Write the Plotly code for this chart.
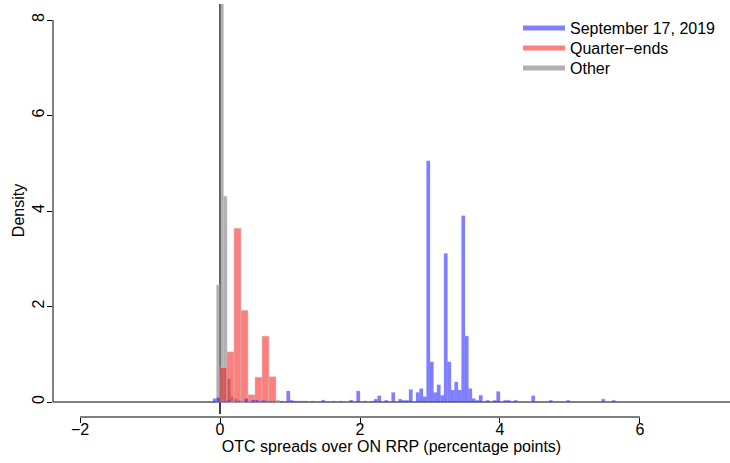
import plotly.graph_objects as go

# ---------------- data (density histograms) ----------------
# September 17, 2019 (bin width 0.05): left bin edges and densities
sep_edges = [-0.10, -0.05, 0.00, 0.05, 0.10, 0.20, 0.25, 0.35, 0.45, 0.50, 0.55, 0.60,
             0.65, 0.70, 0.75, 0.85, 0.95, 1.00, 1.05, 1.10, 1.15, 1.20, 1.30, 1.45,
             1.60, 1.70, 1.85, 1.95, 2.05, 2.15, 2.20, 2.25, 2.35, 2.45, 2.55, 2.60,
             2.65, 2.70, 2.80, 2.85, 2.90, 2.95, 3.00, 3.05, 3.10, 3.15, 3.20, 3.25,
             3.30, 3.35, 3.40, 3.45, 3.50, 3.55, 3.60, 3.65, 3.70, 3.80, 3.90, 3.95,
             4.05, 4.10, 4.20, 4.45, 4.70, 4.95, 5.45, 5.60]
sep_density = [0.07, 0.09, 0.02, 0.02, 0.035, 0.02, 0.02, 0.07, 0.04, 0.04, 0.02, 0.035,
               0.02, 0.02, 0.02, 0.02, 0.23, 0.035, 0.02, 0.02, 0.02, 0.02, 0.02, 0.04,
               0.02, 0.02, 0.04, 0.23, 0.02, 0.02, 0.06, 0.13, 0.035, 0.20, 0.06, 0.035,
               0.035, 0.26, 0.20, 0.28, 0.11, 5.05, 0.84, 0.20, 0.36, 0.14, 3.11, 0.84,
               0.25, 0.42, 0.25, 3.90, 1.38, 0.28, 0.07, 0.035, 0.14, 0.035, 0.035, 0.22,
               0.035, 0.035, 0.035, 0.13, 0.035, 0.035, 0.06, 0.035]
sep_width = 0.05

# Quarter-ends (bin width 0.1)
qe_edges = [0.0, 0.1, 0.2, 0.3, 0.4, 0.5, 0.6, 0.7]
qe_density = [0.72, 1.05, 3.64, 1.92, 0.15, 0.52, 1.38, 0.53]
qe_width = 0.1

# Other days (bin width 0.05)
oth_edges = [-0.05, 0.00, 0.05, 0.10, 0.15, 0.20, 0.25, 0.30, 0.80]
oth_density = [2.45, 12.5, 4.31, 0.48, 0.11, 0.06, 0.03, 0.02, 0.04]
oth_width = 0.05

series_names = ["September 17, 2019", "Quarter\u2212ends", "Other"]
x_ticks = [-2, 0, 2, 4, 6]
y_ticks = [0, 2, 4, 6, 8]

# ---------------- styling ----------------
BLUE = "rgba(0,0,255,0.5)"
RED = "rgba(255,0,0,0.5)"
GRAY = "rgba(100,100,100,0.5)"
FONT = "Liberation Sans, Arial, sans-serif"

fig = go.Figure()

fig.add_trace(go.Bar(x=oth_edges, y=oth_density, width=oth_width, offset=0,
                     marker=dict(color=GRAY, line=dict(color="rgba(200,200,200,0.6)", width=0.8)),
                     showlegend=False, hoverinfo="skip"))
fig.add_trace(go.Bar(x=qe_edges, y=qe_density, width=qe_width, offset=0,
                     marker=dict(color=RED, line=dict(color="rgba(200,200,200,0.7)", width=0.8)),
                     showlegend=False, hoverinfo="skip"))
fig.add_trace(go.Bar(x=sep_edges, y=sep_density, width=sep_width, offset=0,
                     marker=dict(color=BLUE, line=dict(color="rgba(150,150,255,0.5)", width=0.6)),
                     showlegend=False, hoverinfo="skip"))

# legend entries as thick lines, each in its own legend box for exact row placement
legend_cols = [BLUE, RED, GRAY]
legend_ids = ["legend", "legend2", "legend3"]
for name, col, lid in zip(series_names, legend_cols, legend_ids):
    fig.add_trace(go.Scatter(x=[None], y=[None], mode="lines", name=name,
                             line=dict(color=col, width=5), legend=lid))

# Plot area in pixels: left 53, right 730, top 4, bottom 417
PL, PR, PT, PB = 53, 730, 4, 417
x_range = [-2.386, 7.286]
y_range = [-0.314, 8.335]

def px_x(p):
    return (p - PL) / (PR - PL)

def px_y(p):
    return (PB - p) / (PB - PT)

leg_common = dict(xanchor="left", yanchor="middle", bgcolor="rgba(0,0,0,0)",
                  borderwidth=0, itemwidth=42,
                  font=dict(family=FONT, size=16, color="black"))
row_px = [28, 48, 68]

fig.update_layout(
    width=730, height=463,
    margin=dict(l=PL, r=730 - PR, t=PT, b=463 - PB, autoexpand=False),
    plot_bgcolor="white", paper_bgcolor="white",
    barmode="overlay",
    font=dict(family=FONT, size=16, color="black"),
    showlegend=True,
    legend=dict(x=px_x(518), y=px_y(row_px[0]), **leg_common),
    legend2=dict(x=px_x(518), y=px_y(row_px[1]), **leg_common),
    legend3=dict(x=px_x(518), y=px_y(row_px[2]), **leg_common),
    xaxis=dict(range=x_range, tickvals=x_ticks, ticks="outside", ticklen=5,
               tickcolor="black", tickwidth=1, showline=False, showgrid=False,
               zeroline=False, automargin=False, ticklabelstandoff=-7,
               title=dict(text="OTC spreads over ON RRP (percentage points)",
                          font=dict(size=16), standoff=3)),
    yaxis=dict(range=y_range, tickvals=y_ticks, ticks="outside", ticklen=5,
               tickcolor="black", tickwidth=1, showline=False, showgrid=False,
               zeroline=False, automargin=False, tickangle=-90, ticklabelstandoff=-3,
               title=dict(text="Density", font=dict(size=16), standoff=0)),
)

shapes = [
    # vertical reference line at x = 0
    dict(type="line", xref="x", yref="paper", x0=0, x1=0, y0=0.007, y1=1,
         line=dict(color="black", width=1.5), layer="below"),
    # horizontal line at y = 0 across the plot region
    dict(type="line", xref="paper", yref="y", x0=0, x1=1, y0=0, y1=0,
         line=dict(color="black", width=1), layer="below"),
    # x axis line spanning the tick range
    dict(type="line", xref="x", yref="paper", x0=x_ticks[0], x1=x_ticks[-1], y0=0, y1=0,
         line=dict(color="black", width=1)),
    # y axis line spanning the tick range
    dict(type="line", xref="paper", yref="y", x0=0, x1=0, y0=y_ticks[0], y1=y_ticks[-1],
         line=dict(color="black", width=1)),
]
fig.update_layout(shapes=shapes)

fig.write_html("out.html", config={"displayModeBar": False},
               post_script="document.body.style.margin='0';")
